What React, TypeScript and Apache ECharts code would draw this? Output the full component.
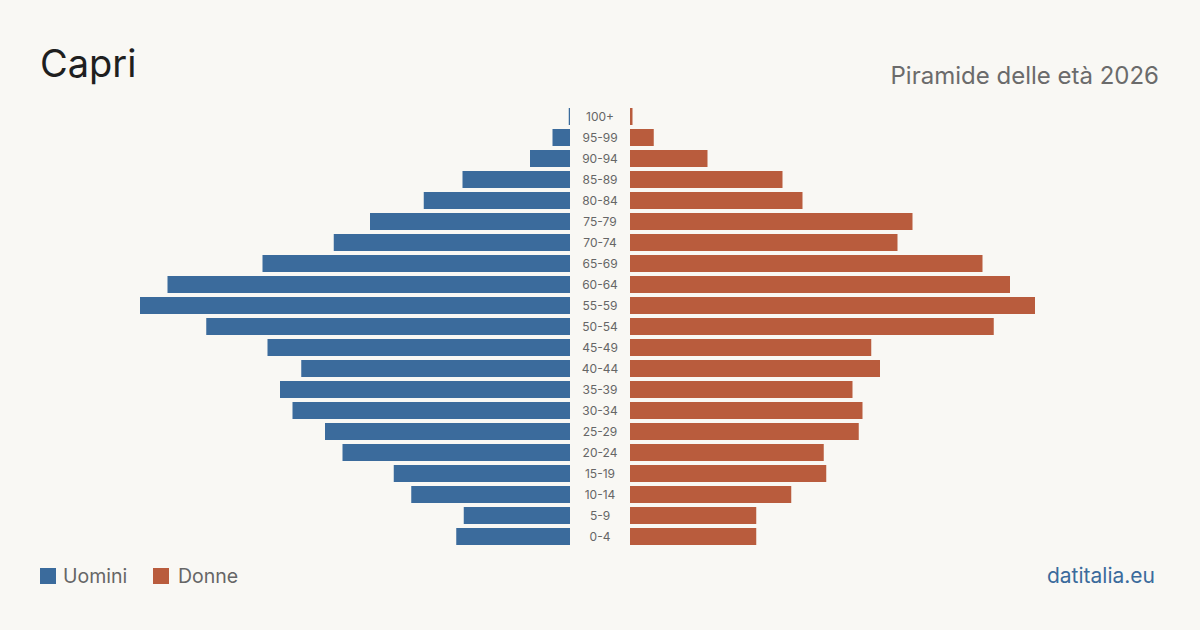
import React, { useEffect, useRef } from "react";
import * as echarts from "echarts";

// Age classes, bottom to top
const ageGroups = [
  "0-4", "5-9", "10-14", "15-19", "20-24", "25-29", "30-34", "35-39", "40-44",
  "45-49", "50-54", "55-59", "60-64", "65-69", "70-74", "75-79", "80-84",
  "85-89", "90-94", "95-99", "100+",
];

// Residents by age class
const uomini = [91, 85, 127, 141, 182, 196, 222, 232, 215, 242, 291, 344, 322, 246, 189, 160, 117, 86, 32, 14, 1];
const donne = [101, 101, 129, 157, 155, 183, 186, 178, 200, 193, 291, 324, 304, 282, 214, 226, 138, 122, 62, 19, 2];

const BLUE = "#3b6b9c";
const ORANGE = "#b95c3d";
const BG = "#f9f8f4";
const FONT = "Inter, 'Noto Sans', sans-serif";

export default function App() {
  const ref = useRef<HTMLDivElement>(null);

  useEffect(() => {
    if (!ref.current) return;
    const chart = echarts.init(ref.current, undefined, { renderer: "svg" });
    chart.setOption({
      animation: false,
      backgroundColor: BG,
      textStyle: { fontFamily: FONT },
      grid: [
        { left: 70, width: 500, top: 106, height: 441 },
        { left: 630, width: 500, top: 106, height: 441 },
      ],
      xAxis: [
        { gridIndex: 0, type: "value", min: 0, max: 400, inverse: true, show: false },
        { gridIndex: 1, type: "value", min: 0, max: 400, show: false },
      ],
      yAxis: [
        {
          gridIndex: 0,
          type: "category",
          data: ageGroups,
          position: "right",
          axisLine: { show: false },
          axisTick: { show: false },
          axisLabel: {
            margin: 30,
            align: "center",
            color: "#666",
            fontSize: 12,
            fontFamily: FONT,
          },
        },
        {
          gridIndex: 1,
          type: "category",
          data: ageGroups,
          show: false,
        },
      ],
      series: [
        {
          name: "Uomini",
          type: "bar",
          xAxisIndex: 0,
          yAxisIndex: 0,
          data: uomini,
          barWidth: 17,
          itemStyle: { color: BLUE },
        },
        {
          name: "Donne",
          type: "bar",
          xAxisIndex: 1,
          yAxisIndex: 1,
          data: donne,
          barWidth: 17,
          itemStyle: { color: ORANGE },
        },
      ],
      graphic: [
        {
          type: "text",
          left: 40,
          top: 44,
          style: { text: "Capri", fontSize: 38, fill: "#1f1f1f", fontFamily: FONT },
        },
        {
          type: "text",
          right: 41,
          top: 63,
          style: { text: "Piramide delle età 2026", fontSize: 24, fill: "#6b6b6b", fontFamily: FONT },
        },
        { type: "rect", shape: { x: 40, y: 568, width: 16, height: 16 }, style: { fill: BLUE } },
        {
          type: "text",
          left: 63,
          top: 566,
          style: { text: "Uomini", fontSize: 19.5, fill: "#666", fontFamily: FONT },
        },
        { type: "rect", shape: { x: 153, y: 568, width: 16, height: 16 }, style: { fill: ORANGE } },
        {
          type: "text",
          left: 178,
          top: 566,
          style: { text: "Donne", fontSize: 19.5, fill: "#666", fontFamily: FONT },
        },
        {
          type: "text",
          right: 45,
          top: 565,
          style: { text: "datitalia.eu", fontSize: 21, fill: "#3b6b9c", fontFamily: FONT },
        },
      ],
    });
    return () => chart.dispose();
  }, []);

  return (
    <div
      ref={ref}
      style={{ position: "absolute", left: 0, top: 0, width: 1200, height: 630 }}
    />
  );
}
